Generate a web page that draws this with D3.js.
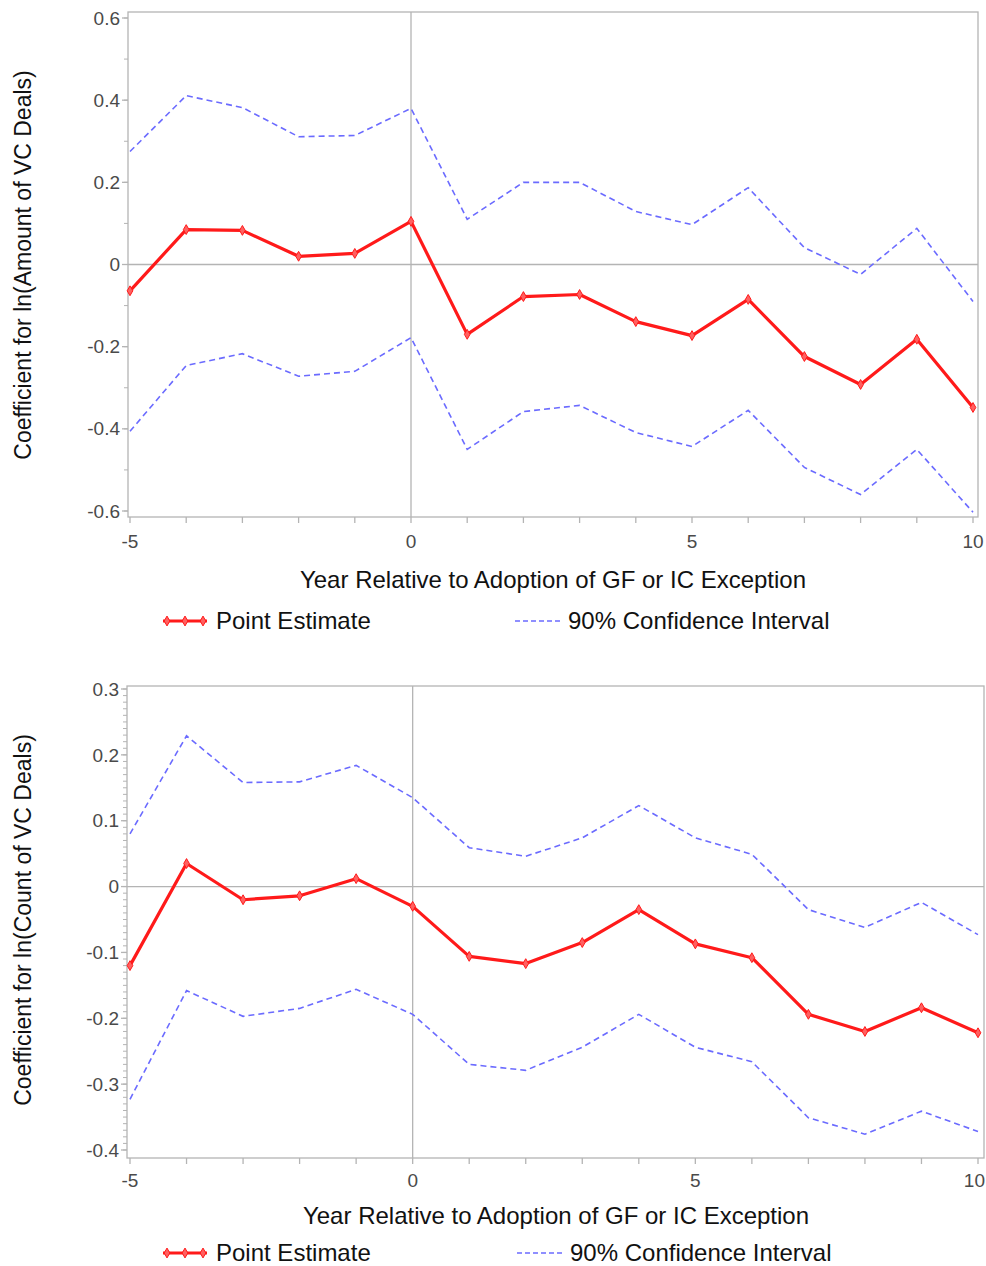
<!DOCTYPE html>
<html>
<head>
<meta charset="utf-8">
<script src="https://cdn.jsdelivr.net/npm/d3@7"></script>
<style>
  body { margin: 0; background: #fff; }
  svg text { font-family: "Liberation Sans", Arial, sans-serif; }
</style>
</head>
<body>
<div id="svg"></div>
<script>
// years on the x axis
var years = [-5, -4, -3, -2, -1, 0, 1, 2, 3, 4, 5, 6, 7, 8, 9, 10];
var xTickLabels = [-5, 0, 5, 10];

// top panel: ln(Amount of VC Deals)
var amountEst   = [-0.064, 0.085, 0.083, 0.020, 0.027, 0.105, -0.170, -0.078, -0.073, -0.139, -0.173, -0.085, -0.224, -0.292, -0.182, -0.348];
var amountUpper = [0.275, 0.411, 0.382, 0.311, 0.314, 0.380, 0.110, 0.200, 0.200, 0.129, 0.097, 0.187, 0.041, -0.024, 0.088, -0.090];
var amountLower = [-0.406, -0.246, -0.217, -0.272, -0.260, -0.178, -0.450, -0.358, -0.343, -0.409, -0.443, -0.355, -0.494, -0.560, -0.450, -0.603];
var amountYTicks = [-0.6, -0.4, -0.2, 0, 0.2, 0.4, 0.6];

// bottom panel: ln(Count of VC Deals)
var countEst   = [-0.120, 0.035, -0.020, -0.014, 0.012, -0.030, -0.106, -0.117, -0.085, -0.035, -0.087, -0.108, -0.194, -0.220, -0.184, -0.222];
var countUpper = [0.080, 0.229, 0.158, 0.159, 0.184, 0.135, 0.059, 0.046, 0.074, 0.123, 0.074, 0.049, -0.035, -0.062, -0.024, -0.073];
var countLower = [-0.323, -0.158, -0.197, -0.185, -0.156, -0.194, -0.270, -0.279, -0.244, -0.194, -0.244, -0.266, -0.351, -0.376, -0.341, -0.372];
var countYTicks = [-0.4, -0.3, -0.2, -0.1, 0, 0.1, 0.2, 0.3];

var width = 986, height = 1266;

var svg = d3.select("#svg").append("svg")
    .attr("width", width)
    .attr("height", height);

var frameColor = "#b4b4b4";

// plain hyphen for negatives, like the original
function fmt(v) {
  if (v === 0) return "0";
  return (v < 0 ? "-" : "") + Math.abs(v).toFixed(1);
}

function drawPanel(p) {
  var x = d3.scaleLinear().domain([-5, 10]).range([p.x0, p.x1]);
  var y = d3.scaleLinear().domain([p.ymin, p.ymax]).range([p.yb, p.yt]);
  var g = svg.append("g");

  // frame
  g.append("rect")
    .attr("x", p.fx0).attr("y", p.fy0)
    .attr("width", p.fx1 - p.fx0).attr("height", p.fy1 - p.fy0)
    .attr("fill", "none").attr("stroke", frameColor).attr("stroke-width", 1.3);

  // reference lines at 0
  g.append("line")
    .attr("x1", p.fx0).attr("x2", p.fx1).attr("y1", y(0)).attr("y2", y(0))
    .attr("stroke", frameColor).attr("stroke-width", 1.3);
  g.append("line")
    .attr("x1", x(0)).attr("x2", x(0)).attr("y1", p.fy0).attr("y2", p.fy1)
    .attr("stroke", frameColor).attr("stroke-width", 1.3);

  // y axis ticks
  var minor = d3.range(Math.round(p.ymin / p.minorStep), Math.round(p.ymax / p.minorStep) + 1)
      .map(function(i) { return i * p.minorStep; });
  g.selectAll("line.ymin").data(minor).enter().append("line")
    .attr("x1", p.fx0).attr("x2", p.fx0 - 4)
    .attr("y1", function(d) { return y(d); }).attr("y2", function(d) { return y(d); })
    .attr("stroke", frameColor).attr("stroke-width", 1);
  g.selectAll("line.ymaj").data(p.yTicks).enter().append("line")
    .attr("x1", p.fx0).attr("x2", p.fx0 - 6)
    .attr("y1", function(d) { return y(d); }).attr("y2", function(d) { return y(d); })
    .attr("stroke", frameColor).attr("stroke-width", 1.3);
  g.selectAll("text.ytl").data(p.yTicks).enter().append("text")
    .attr("x", p.fx0 - 8).attr("y", function(d) { return y(d); })
    .attr("dy", "0.35em").attr("text-anchor", "end")
    .attr("font-size", 19).attr("fill", "#4a4a4a")
    .text(fmt);

  // x axis ticks
  g.selectAll("line.xt").data(years).enter().append("line")
    .attr("x1", function(d) { return x(d); }).attr("x2", function(d) { return x(d); })
    .attr("y1", p.fy1).attr("y2", p.fy1 + 6)
    .attr("stroke", frameColor).attr("stroke-width", 1.3);
  g.selectAll("text.xtl").data(xTickLabels).enter().append("text")
    .attr("x", function(d) { return x(d); }).attr("y", p.xLabY)
    .attr("dy", "0.35em").attr("text-anchor", "middle")
    .attr("font-size", 19).attr("fill", "#4a4a4a")
    .text(function(d) { return d; })
    .each(function() {
      // keep the last label inside the page
      var w = this.getComputedTextLength();
      var cx = +this.getAttribute("x");
      if (cx + w / 2 > width - 1) d3.select(this).attr("x", width - 1 - w / 2);
    });

  // titles
  g.append("text")
    .attr("x", p.titleX).attr("y", p.titleY).attr("dy", "0.35em")
    .attr("text-anchor", "middle").attr("font-size", 24).attr("fill", "#111")
    .text("Year Relative to Adoption of GF or IC Exception");
  g.append("text")
    .attr("transform", "translate(" + 23 + "," + p.ylabY + ") rotate(-90)")
    .attr("text-anchor", "middle").attr("dy", "0.35em")
    .attr("font-size", 23).attr("fill", "#111")
    .text(p.ylabel);

  var line = d3.line()
    .x(function(d) { return x(d[0]); })
    .y(function(d) { return y(d[1]); });

  [p.upper, p.lower].forEach(function(s) {
    g.append("path")
      .datum(years.map(function(yr, i) { return [yr, s[i]]; }))
      .attr("d", line)
      .attr("fill", "none").attr("stroke", "#6b6bff").attr("stroke-width", 1.6)
      .attr("stroke-dasharray", "6,4");
  });

  var est = years.map(function(yr, i) { return [yr, p.est[i]]; });
  g.append("path")
    .datum(est)
    .attr("d", line)
    .attr("fill", "none").attr("stroke", "#ff1a1a").attr("stroke-width", 3.2)
    .attr("stroke-linejoin", "round");
  g.selectAll("path.mk").data(est).enter().append("path")
    .attr("d", d3.symbol().type(d3.symbolDiamond).size(28))
    .attr("transform", function(d) { return "translate(" + x(d[0]) + "," + y(d[1]) + ")"; })
    .attr("fill", "#ff6060").attr("stroke", "#ff1a1a").attr("stroke-width", 1);

  // legend
  var ly = p.legY;
  g.append("line")
    .attr("x1", 163).attr("x2", 207).attr("y1", ly).attr("y2", ly)
    .attr("stroke", "#ff1a1a").attr("stroke-width", 3.2);
  g.selectAll("path.lmk").data([167, 185, 203]).enter().append("path")
    .attr("d", d3.symbol().type(d3.symbolDiamond).size(28))
    .attr("transform", function(d) { return "translate(" + d + "," + ly + ")"; })
    .attr("fill", "#ff6060").attr("stroke", "#ff1a1a").attr("stroke-width", 1);
  g.append("text")
    .attr("x", 216).attr("y", ly).attr("dy", "0.35em")
    .attr("font-size", 24).attr("fill", "#111")
    .text("Point Estimate");
  g.append("line")
    .attr("x1", p.legX).attr("x2", p.legX + 45).attr("y1", ly).attr("y2", ly)
    .attr("stroke", "#6b6bff").attr("stroke-width", 1.4).attr("stroke-dasharray", "5,3");
  g.append("text")
    .attr("x", p.legX + 53).attr("y", ly).attr("dy", "0.35em")
    .attr("font-size", 24).attr("fill", "#111")
    .text("90% Confidence Interval");
}

drawPanel({
  x0: 130, x1: 973, fx0: 128, fx1: 978, fy0: 12, fy1: 517,
  ymin: -0.6, ymax: 0.6, yb: 511, yt: 18, minorStep: 0.1,
  yTicks: amountYTicks, est: amountEst, upper: amountUpper, lower: amountLower,
  ylabel: "Coefficient for ln(Amount of VC Deals)", ylabY: 265,
  xLabY: 541, titleX: 553, titleY: 580, legY: 621, legX: 515
});

drawPanel({
  x0: 130, x1: 978, fx0: 127, fx1: 984, fy0: 686, fy1: 1158,
  ymin: -0.4, ymax: 0.3, yb: 1150, yt: 689, minorStep: 0.01,
  yTicks: countYTicks, est: countEst, upper: countUpper, lower: countLower,
  ylabel: "Coefficient for ln(Count of VC Deals)", ylabY: 920,
  xLabY: 1180, titleX: 556, titleY: 1216, legY: 1253, legX: 517
});
</script>
</body>
</html>
